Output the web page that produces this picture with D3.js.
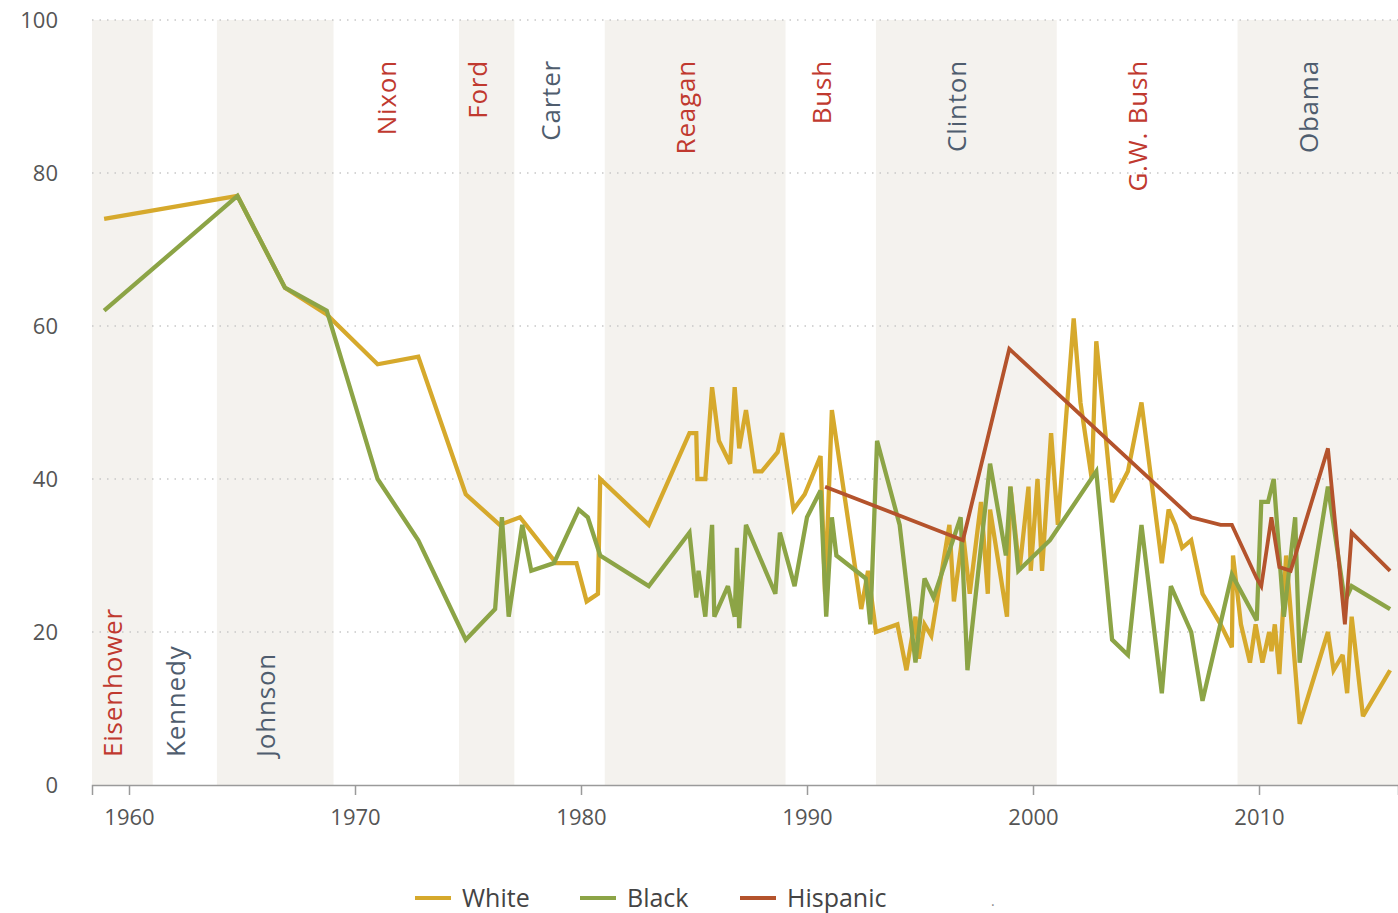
<!DOCTYPE html>
<html>
<head>
<meta charset="utf-8">
<script src="https://cdn.jsdelivr.net/npm/d3@7"></script>
<style>
  body { margin: 0; background: #fff; }
  svg text { font-family: "Open Sans", "DejaVu Sans", sans-serif; }
</style>
</head>
<body>
<div id="placeholder"></div>
<script>
// poll dates (decimal years) and share of each group
var whiteYears = [1958.9, 1964.8, 1966.9, 1968.75, 1971.0, 1972.8, 1974.9, 1976.4, 1977.3, 1978.9, 1979.8, 1980.25, 1980.75, 1980.85,
  1983.0, 1984.8, 1985.1, 1985.15, 1985.5, 1985.8, 1986.1, 1986.6, 1986.8, 1987.0, 1987.3, 1987.7, 1988.0, 1988.7, 1988.9,
  1989.4, 1989.9, 1990.6, 1990.8, 1991.1, 1992.4, 1992.7, 1993.05, 1994.0, 1994.4, 1994.8, 1994.95, 1995.2, 1995.5,
  1996.3, 1996.5, 1996.9, 1997.2, 1997.7, 1998.0, 1998.1, 1998.85, 1999.0, 1999.4, 1999.8, 1999.9, 2000.2, 2000.4,
  2000.8, 2001.1, 2001.8, 2002.1, 2002.6, 2002.8, 2003.5, 2004.2, 2004.8, 2005.7, 2006.0, 2006.3, 2006.6, 2007.0,
  2007.5, 2008.3, 2008.8, 2008.85, 2009.2, 2009.6, 2009.85, 2010.15, 2010.45, 2010.55, 2010.7, 2010.9, 2011.2, 2011.8,
  2013.05, 2013.3, 2013.7, 2013.9, 2014.1, 2014.6, 2015.8];
var whiteValues = [74, 77, 65, 61.5, 55, 56, 38, 34, 35, 29, 29, 24, 25, 40,
  34, 46, 46, 40, 40, 52, 45, 42, 52, 44, 49, 41, 41, 43.5, 46,
  36, 38, 43, 25, 49, 23, 28, 20, 21, 15, 22, 16.5, 21, 19.5,
  34, 24, 33, 25, 37, 25, 36, 22, 39, 28, 39, 28, 40, 28,
  46, 34, 61, 50, 40, 58, 37, 41, 50, 29, 36, 34, 31, 32,
  25, 21, 18, 30, 21, 16, 21, 16, 20, 17.5, 21, 14.5, 30, 8,
  20, 15, 17, 12, 22, 9, 15];

var blackYears = [1958.9, 1964.8, 1966.9, 1968.75, 1971.0, 1972.8, 1974.9, 1976.2, 1976.5, 1976.8, 1977.4, 1977.8, 1978.8, 1979.9,
  1980.3, 1980.85, 1983.0, 1984.8, 1985.1, 1985.2, 1985.5, 1985.8, 1985.9, 1986.5, 1986.8, 1986.9, 1987.0, 1987.3,
  1988.6, 1988.8, 1989.45, 1990.0, 1990.6, 1990.85, 1991.1, 1991.3, 1992.6, 1992.8, 1993.1, 1994.1, 1994.8, 1995.2,
  1995.6, 1996.8, 1997.1, 1998.1, 1998.8, 1999.0, 1999.35, 2000.75, 2002.8, 2003.5, 2004.2, 2004.8, 2005.7, 2006.1,
  2007.0, 2007.5, 2008.8, 2009.9, 2010.1, 2010.4, 2010.65, 2011.1, 2011.6, 2011.8, 2013.05, 2013.8, 2014.1, 2015.8];
var blackValues = [62, 77, 65, 62, 40, 32, 19, 23, 35, 22, 34, 28, 29, 36,
  35, 30, 26, 33, 24.5, 28, 22, 34, 22, 26, 22, 31, 20.5, 34,
  25, 33, 26, 35, 38.5, 22, 35, 30, 27, 21, 45, 34, 16, 27,
  24.5, 35, 15, 42, 30, 39, 28, 32, 41, 19, 17, 34, 12, 26,
  20, 11, 27.5, 21.5, 37, 37, 40, 22, 35, 16, 39, 24, 26, 23];

var hispanicYears = [1990.8, 1996.9, 1998.95, 2007.0, 2008.3, 2008.8, 2009.9, 2010.1, 2010.55, 2010.9, 2011.4, 2013.05, 2013.8, 2014.1, 2015.8];
var hispanicValues = [39, 32, 57, 35, 34, 34, 27, 26, 35, 28.5, 28, 44, 21, 33, 28];

// presidential terms for the background bands
var presidents = ["Eisenhower", "Kennedy", "Johnson", "Nixon", "Ford", "Carter", "Reagan", "Bush", "Clinton", "G.W. Bush", "Obama"];
var termStarts = [1953.05, 1961.05, 1963.89, 1969.05, 1974.6, 1977.05, 1981.05, 1989.05, 1993.05, 2001.05, 2009.05];
var termEnds = [1961.05, 1963.89, 1969.05, 1974.6, 1977.05, 1981.05, 1989.05, 1993.05, 2001.05, 2009.05, 2017.05];
var parties = ["R", "D", "D", "R", "R", "D", "R", "R", "D", "R", "D"];

var yearTicks = [1960, 1970, 1980, 1990, 2000, 2010];
var valueTicks = [0, 20, 40, 60, 80, 100];

var seriesNames = ["White", "Black", "Hispanic"];
var seriesColors = ["#d6a92c", "#8ca446", "#b4532c"];

var width = 1398;
var height = 913;

var svg = d3.select("#placeholder")
  .append("svg")
  .attr("width", width)
  .attr("height", height);

var x = d3.scaleLinear().domain([1958.363, 2016.15]).range([92, 1398]);
var y = d3.scaleLinear().domain([0, 100]).range([785, 20]);

// shaded bands (every other term)
var bands = presidents.map(function(p, i) {
  return { name: p, start: Math.max(termStarts[i], x.domain()[0]), end: Math.min(termEnds[i], x.domain()[1]), party: parties[i], i: i };
});

svg.selectAll("rect.band")
  .data(bands.filter(function(d) { return d.i % 2 == 0; }))
  .enter()
  .append("rect")
  .attr("class", "band")
  .attr("x", function(d) { return x(d.start); })
  .attr("width", function(d) { return x(d.end) - x(d.start); })
  .attr("y", y(100))
  .attr("height", y(0) - y(100))
  .attr("fill", "#f4f2ee");

// dotted gridlines
svg.selectAll("line.grid")
  .data(valueTicks.filter(function(v) { return v > 0; }))
  .enter()
  .append("line")
  .attr("x1", 92)
  .attr("x2", 1398)
  .attr("y1", function(d) { return y(d); })
  .attr("y2", function(d) { return y(d); })
  .attr("stroke", "#c8c8c8")
  .attr("stroke-width", 1.5)
  .attr("stroke-dasharray", "1.5,6");

// y labels
svg.selectAll("text.ylab")
  .data(valueTicks)
  .enter()
  .append("text")
  .attr("x", 58)
  .attr("y", function(d) { return y(d) + 8; })
  .attr("text-anchor", "end")
  .attr("fill", "#555")
  .style("font-size", "22px")
  .text(function(d) { return d; });

// x axis
var xAxis = d3.axisBottom(x).tickValues(yearTicks).tickFormat(d3.format("d")).tickSizeOuter(0).tickSize(10).tickPadding(14);
var gx = svg.append("g").attr("transform", "translate(0," + y(0) + ")").call(xAxis);
gx.select(".domain").attr("stroke", "#9a9a9a").attr("stroke-width", 1.5);
gx.selectAll(".tick line").attr("stroke", "#9a9a9a").attr("stroke-width", 1.5);
gx.selectAll(".tick text").attr("fill", "#555").style("font-size", "22px").style("font-family", "'Open Sans', sans-serif");

// president labels
svg.selectAll("text.pres")
  .data(bands)
  .enter()
  .append("text")
  .attr("transform", function(d) {
    var cx = x((d.start + d.end) / 2);
    var cy = d.i < 3 ? 757 : 60;
    return "translate(" + cx + "," + cy + ") rotate(-90)";
  })
  .attr("text-anchor", function(d) { return d.i < 3 ? "start" : "end"; })
  .attr("fill", function(d) { return d.party == "R" ? "#c0392f" : "#4f5d6e"; })
  .style("font-size", "26px")
  .style("letter-spacing", "0.8px")
  .text(function(d) { return d.name; });

// lines
var line = d3.line()
  .x(function(d) { return x(d[0]); })
  .y(function(d) { return y(d[1]); });

var series = [
  d3.zip(whiteYears, whiteValues),
  d3.zip(blackYears, blackValues),
  d3.zip(hispanicYears, hispanicValues)
];

svg.selectAll("path.series")
  .data(series)
  .enter()
  .append("path")
  .attr("d", line)
  .attr("fill", "none")
  .attr("stroke", function(d, i) { return seriesColors[i]; })
  .attr("stroke-width", function(d, i) { return i == 2 ? 3.8 : 4.3; })
  .attr("stroke-linejoin", "miter")
  .attr("stroke-miterlimit", 3);

// legend
var legendX = [415, 580, 740];
var legend = svg.selectAll("g.legend")
  .data(seriesNames)
  .enter()
  .append("g")
  .attr("transform", function(d, i) { return "translate(" + legendX[i] + ",898)"; });

legend.append("line")
  .attr("x1", 0).attr("x2", 36)
  .attr("y1", 0).attr("y2", 0)
  .attr("stroke", function(d, i) { return seriesColors[i]; })
  .attr("stroke-width", 4);

legend.append("text")
  .attr("x", 47)
  .attr("y", 9)
  .attr("fill", "#444")
  .style("font-size", "25px")
  .text(function(d) { return d; });

svg.append("text")
  .attr("x", 991).attr("y", 906)
  .attr("fill", "#888")
  .style("font-size", "14px")
  .text(".");
</script>
</body>
</html>
